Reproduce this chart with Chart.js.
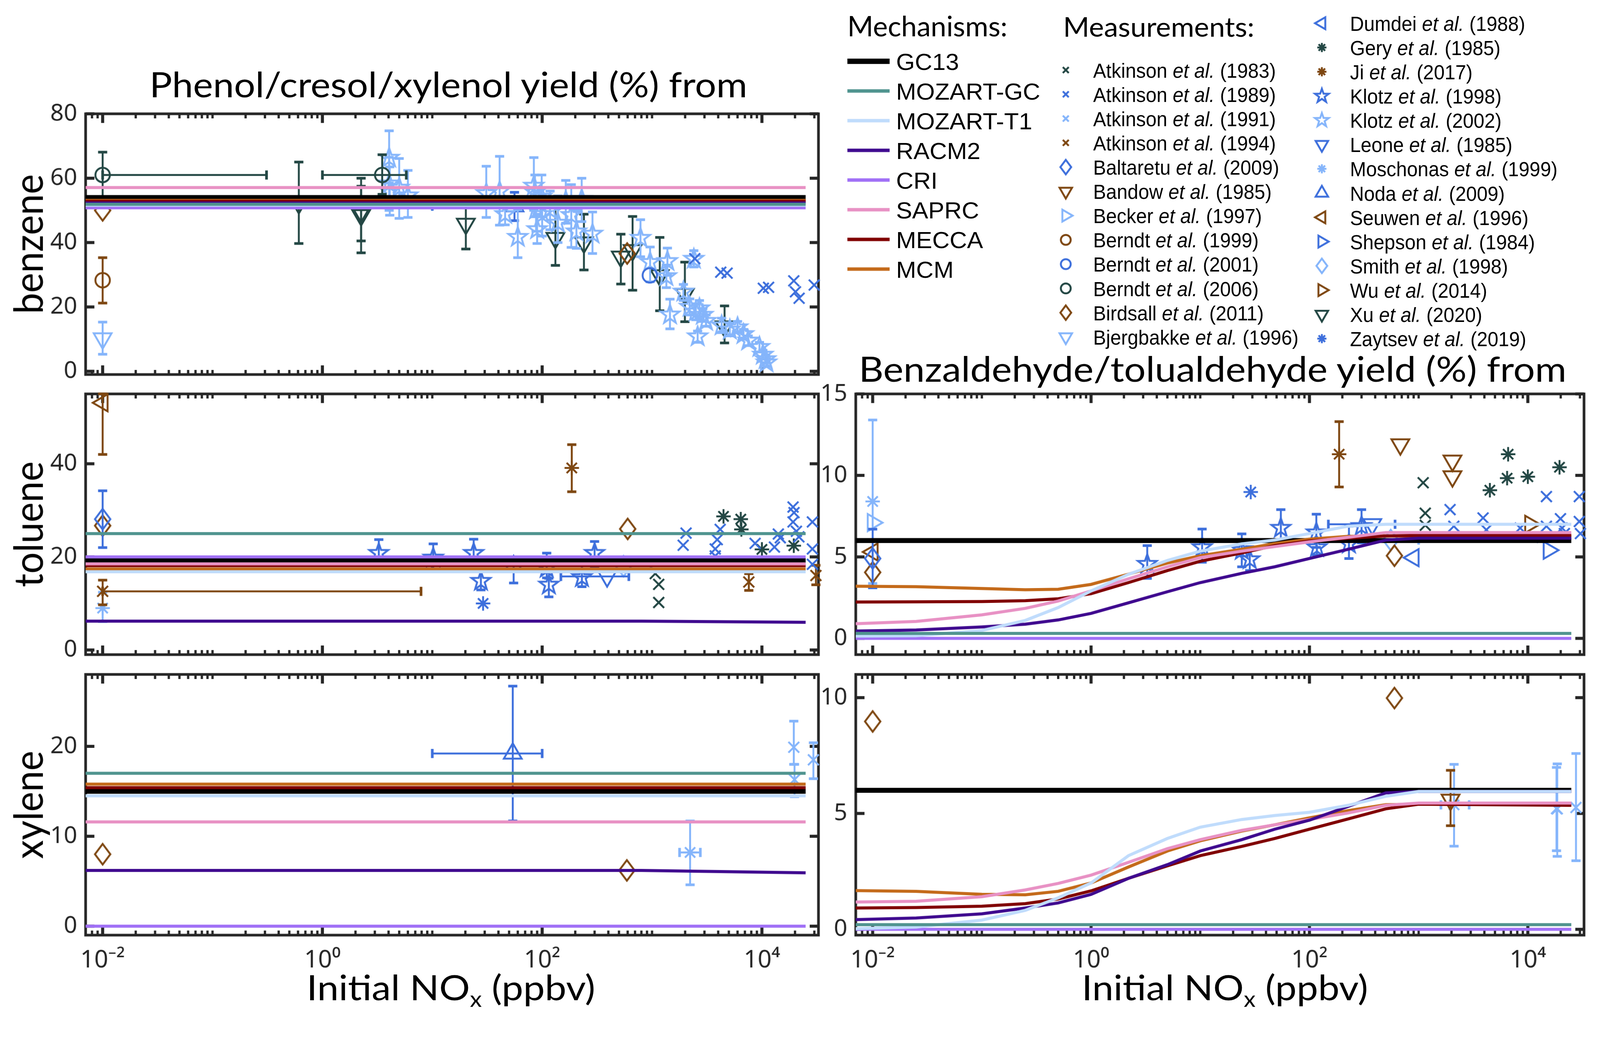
<!DOCTYPE html>
<html>
<head>
<meta charset="utf-8">
<title>Phenol and benzaldehyde yields vs initial NOx</title>
<script src="https://cdn.jsdelivr.net/npm/chart.js@4.4.1/dist/chart.umd.min.js"></script>
<style>
  html, body { margin: 0; padding: 0; background: #fff; overflow: hidden; }
  #page { position: relative; width: 4205px; height: 2695px; overflow: hidden; background: #fff; transform-origin: 0 0; }
  #page canvas { position: absolute; }
  .txt { position: absolute; left: 0; top: 0; white-space: nowrap; line-height: 1; color: #000; transform-origin: 0 0; }
  .bl { display: inline-block; width: 0; height: 0; vertical-align: baseline; }
</style>
</head>
<body>
<div id="page"></div>
<script>
// mechanisms (legend order)
const mechNames = ["GC13", "MOZART-GC", "MOZART-T1", "RACM2", "CRI", "SAPRC", "MECCA", "MCM"];
const mechColors = ["#000000", "#50948f", "#c0dcfc", "#3f0a8f", "#a070f6", "#e891c4", "#800000", "#c46a1a"];
const mechWidths = [13, 8, 8, 8, 8, 8, 8, 8];

// shared log x axis
const xMin = 0.007;
const xMax = 32700;
const xTickValues = [0.01, 1, 100, 10000];
const xTickLabels = ["10⁻²", "10⁰", "10²", "10⁴"];
const mechLineX = [0.007, 25000];

// phenol-type yields, flat mechanism values
const benzeneMech = [54.0, 51.9, 51.6, 52.3, 50.8, 57.1, 52.8, 53.1];
const tolueneMech = [19.2, 25.0, 16.8, 6.2, 20.0, 18.5, 18.1, 17.4];
const xyleneMech = [15.0, 17.0, 14.5, 6.2, 0.0, 11.6, 15.4, 15.8];
const racm2X = [0.007, 800, 25000];
const tolueneRacm2 = [6.2, 6.2, 5.95];
const xyleneRacm2 = [6.2, 6.2, 5.93];

// benzaldehyde-type yields, NOx-dependent mechanisms
const curveX = [0.007, 0.025, 0.1, 0.25, 0.5, 1, 2.2, 5, 10, 24, 48, 100, 225, 500, 1000, 25000];
const tolBzFlat = [6.0, 0.3, 0.0]; // GC13, MOZART-GC, CRI
const tolBzMozT1 = [0.14, 0.16, 0.48, 1.10, 1.89, 2.91, 3.93, 4.78, 5.35, 5.80, 6.03, 6.43, 6.88, 7.0, 7.0, 7.0];
const tolBzRacm2 = [0.45, 0.51, 0.70, 0.87, 1.13, 1.53, 2.18, 2.86, 3.42, 3.99, 4.39, 4.90, 5.46, 6.03, 6.15, 6.15];
const tolBzSaprc = [0.90, 1.04, 1.44, 1.84, 2.29, 2.91, 3.65, 4.39, 4.95, 5.35, 5.63, 5.92, 6.20, 6.49, 6.49, 6.49];
const tolBzMecca = [2.23, 2.24, 2.26, 2.31, 2.43, 2.74, 3.42, 4.16, 4.73, 5.24, 5.69, 5.97, 6.14, 6.28, 6.32, 6.32];
const tolBzMcm = [3.20, 3.17, 3.06, 2.98, 3.01, 3.31, 3.94, 4.62, 5.07, 5.47, 5.81, 6.09, 6.26, 6.29, 6.27, 6.25];
const xylBzFlat = [6.0, 0.2, 0.0];
const xylBzMozT1 = [0.03, 0.10, 0.40, 0.82, 1.36, 2.0, 3.18, 3.92, 4.41, 4.74, 4.91, 5.05, 5.35, 5.74, 5.95, 5.95];
const xylBzRacm2 = [0.42, 0.49, 0.67, 0.92, 1.14, 1.51, 2.2, 2.79, 3.38, 3.87, 4.32, 4.71, 5.3, 5.89, 5.95, 5.95];
const xylBzSaprc = [1.18, 1.21, 1.41, 1.70, 1.98, 2.34, 2.89, 3.48, 3.87, 4.27, 4.51, 4.74, 5.02, 5.35, 5.45, 5.45];
const xylBzMecca = [0.92, 0.94, 1.0, 1.11, 1.31, 1.66, 2.2, 2.74, 3.18, 3.58, 3.92, 4.32, 4.76, 5.2, 5.4, 5.35];
const xylBzMcm = [1.67, 1.64, 1.51, 1.49, 1.64, 2.0, 2.69, 3.38, 3.82, 4.24, 4.51, 4.81, 5.12, 5.38, 5.40, 5.38];

// measurement studies
const studyKeys = ["Atkinson1983", "Atkinson1989", "Atkinson1991", "Atkinson1994", "Baltaretu2009", "Bandow1985",
  "Becker1997", "Berndt1999", "Berndt2001", "Berndt2006", "Birdsall2011", "Bjergbakke1996", "Dumdei1988",
  "Gery1985", "Ji2017", "Klotz1998", "Klotz2002", "Leone1985", "Moschonas1999", "Noda2009", "Seuwen1996",
  "Shepson1984", "Smith1998", "Wu2014", "Xu2020", "Zaytsev2019"];
const studyAuthors = ["Atkinson", "Atkinson", "Atkinson", "Atkinson", "Baltaretu", "Bandow", "Becker", "Berndt",
  "Berndt", "Berndt", "Birdsall", "Bjergbakke", "Dumdei", "Gery", "Ji", "Klotz", "Klotz", "Leone", "Moschonas",
  "Noda", "Seuwen", "Shepson", "Smith", "Wu", "Xu", "Zaytsev"];
const studyYears = [1983, 1989, 1991, 1994, 2009, 1985, 1997, 1999, 2001, 2006, 2011, 1996, 1988, 1985, 2017,
  1998, 2002, 1985, 1999, 2009, 1996, 1984, 1998, 2014, 2020, 2019];
const studyColors = ["#234744", "#3d6fdc", "#85b5fb", "#7e4711", "#3d6fdc", "#7e4711", "#85b5fb", "#7e4711",
  "#3d6fdc", "#234744", "#7e4711", "#85b5fb", "#3d6fdc", "#234744", "#7e4711", "#3d6fdc", "#85b5fb", "#3d6fdc",
  "#85b5fb", "#3d6fdc", "#7e4711", "#3d6fdc", "#85b5fb", "#7e4711", "#234744", "#3d6fdc"];
const studyMarkers = ["x", "x", "x", "x", "d", "v", ">", "o", "o", "o", "d", "v", "<", "*", "*", "p", "p", "v",
  "*", "^", "<", ">", "d", ">", "v", "*"];

// observations: [study, NOx, yield, yield low, yield high, NOx low, NOx high]
const benzeneObs = [
  ["Berndt2006", 0.01, 61, 54.2, 68.1, 0.01, 0.31],
  ["Berndt2006", 3.5, 61, 55, 67.3, 1.0, 5.8],
  ["Birdsall2011", 0.01, 50],
  ["Birdsall2011", 594, 36.6],
  ["Berndt1999", 0.01, 28.3, 21.2, 35.3],
  ["Bjergbakke1996", 0.01, 10.2, 5.3, 15.3],
  ["Noda2009", 56, 51.3, 46.8, 55.6, 10, 100],
  ["Berndt2001", 955, 29.8],
  ["Atkinson1989", 2450, 35], ["Atkinson1989", 4220, 30.8], ["Atkinson1989", 4820, 30.5],
  ["Atkinson1989", 10300, 25.8], ["Atkinson1989", 11500, 26.1], ["Atkinson1989", 19500, 28.1],
  ["Atkinson1989", 20200, 24.7], ["Atkinson1989", 21800, 22.7], ["Atkinson1989", 29900, 26.8],
  ["Klotz2002", 4.05, 66.3, 58.5, 74.7], ["Klotz2002", 4.05, 58.3, 50, 66.5], ["Klotz2002", 4.1, 55.9, 48.5, 63.5],
  ["Klotz2002", 5.0, 57, 47.5, 66.1], ["Klotz2002", 6.0, 54.6, 47.8, 62.4],
  ["Klotz2002", 31, 55.3, 47.8, 63.7], ["Klotz2002", 41, 55.9, 45.4, 66.8], ["Klotz2002", 46, 48.8, 45.5, 52.5],
  ["Klotz2002", 60, 41.7, 35.3, 50.2], ["Klotz2002", 84, 57.6, 50, 66.4], ["Klotz2002", 86, 55.6, 48, 61],
  ["Klotz2002", 88, 50.2, 43.5, 56], ["Klotz2002", 90, 44.1, 39.7, 48.8], ["Klotz2002", 99, 54.2, 48, 61],
  ["Klotz2002", 100, 48.8, 42, 55], ["Klotz2002", 118, 50.2, 44, 56], ["Klotz2002", 139, 46.1, 40, 54.5],
  ["Klotz2002", 164, 52.9, 46, 59.3], ["Klotz2002", 184, 48.5, 38.5, 58], ["Klotz2002", 205, 43.4, 38.2, 50],
  ["Klotz2002", 229, 53.5, 46.5, 60], ["Klotz2002", 287, 42.7, 36.6, 49.5], ["Klotz2002", 785, 41.4, 35.6, 47.1],
  ["Klotz2002", 960, 33.9, 27.8, 38.6], ["Klotz2002", 1380, 34.2, 29.8, 38.3], ["Klotz2002", 1350, 29.5, 26, 33],
  ["Klotz2002", 1456, 17.6, 13.2, 22.4], ["Klotz2002", 1930, 24.7, 22, 27], ["Klotz2002", 2400, 34.9, 32.4, 37.5],
  ["Klotz2002", 2200, 20, 17.5, 22.5], ["Klotz2002", 2500, 18.5, 16, 21], ["Klotz2002", 2700, 19.5, 17, 22],
  ["Klotz2002", 2900, 17.5, 15.5, 19.5], ["Klotz2002", 2600, 10.8, 9, 12.5], ["Klotz2002", 3100, 15.6, 14, 17.5],
  ["Klotz2002", 4300, 14.2, 12, 16.5], ["Klotz2002", 5100, 12.9, 11, 15], ["Klotz2002", 6000, 13.6, 12, 15.5],
  ["Klotz2002", 6800, 11.5, 10, 13], ["Klotz2002", 7500, 9.5, 8, 11], ["Klotz2002", 9500, 7.5, 6, 9],
  ["Klotz2002", 10200, 5.1, 4, 6.5], ["Klotz2002", 10800, 3.7, 2.7, 5], ["Klotz2002", 11000, 2.7, 1.5, 4],
  ["Xu2020", 0.61, 52.2, 39.7, 65], ["Xu2020", 2.25, 49.5, 36.8, 60], ["Xu2020", 2.25, 48.5, 40.5, 57.5],
  ["Xu2020", 20.2, 45.8, 38, 54.2], ["Xu2020", 132, 41.4, 32.9, 50.8], ["Xu2020", 240, 40, 31.5, 48.8],
  ["Xu2020", 520, 35.6, 27.1, 42.6], ["Xu2020", 665, 37.6, 25.2, 48.1], ["Xu2020", 1176, 29.8, 18.8, 41.6],
  ["Xu2020", 1990, 24, 15.4, 33.9], ["Xu2020", 4570, 13.9, 8.8, 20.3]
];
const tolueneObs = [
  ["Seuwen1996", 0.01, 53.1, 42.0, 55],
  ["Baltaretu2009", 0.01, 28.1, 22.0, 34.2],
  ["Birdsall2011", 0.01, 26.7], ["Birdsall2011", 600, 26.0],
  ["Atkinson1994", 0.01, 12.6, 9.7, 15.0, 0.01, 7.9],
  ["Atkinson1994", 7600, 14.6, 12.8, 16.4], ["Atkinson1994", 31000, 16.0, 14.0, 18.2],
  ["Moschonas1999", 0.01, 9.0, 6.1, 12.4],
  ["Ji2017", 186, 39.1, 34.0, 44.1],
  ["Klotz1998", 3.26, 20.8, 18.2, 23.7], ["Klotz1998", 10.2, 19.8, 17.2, 22.8], ["Klotz1998", 23.8, 20.8, 18.4, 23.8],
  ["Klotz1998", 27.7, 14.8, 12.9, 17.0], ["Klotz1998", 110, 17.6, 15.5, 20.8], ["Klotz1998", 115, 14.0, 11.4, 15.4],
  ["Klotz1998", 230, 15.6, 13.6, 19.0], ["Klotz1998", 300, 20.8, 18.0, 23.3],
  ["Noda2009", 55, 18.0, 14.4, 19.9, 10, 100],
  ["Leone1985", 390, 15.8, null, null, 148, 615],
  ["Smith1998", 550, 18.0, null, null, 100, 980],
  ["Zaytsev2019", 29, 10.0],
  ["Atkinson1983", 1070, 16.4], ["Atkinson1983", 1150, 14.1], ["Atkinson1983", 1150, 10.2],
  ["Gery1985", 4470, 28.7], ["Gery1985", 6420, 28.1], ["Gery1985", 6500, 25.9], ["Gery1985", 10000, 21.6],
  ["Gery1985", 19500, 22.4],
  ["Atkinson1989", 2040, 25.1], ["Atkinson1989", 1920, 22.5], ["Atkinson1989", 4170, 25.9], ["Atkinson1989", 3920, 23.7],
  ["Atkinson1989", 3760, 21.7], ["Atkinson1989", 3760, 20.2], ["Atkinson1989", 8670, 22.9], ["Atkinson1989", 14100, 24.9],
  ["Atkinson1989", 14700, 24.1], ["Atkinson1989", 13000, 22.1], ["Atkinson1989", 19200, 30.7], ["Atkinson1989", 19600, 29.5],
  ["Atkinson1989", 19200, 27.5], ["Atkinson1989", 20600, 25.5], ["Atkinson1989", 21700, 24.3], ["Atkinson1989", 28800, 27.5],
  ["Atkinson1989", 28800, 21.7], ["Atkinson1989", 28800, 18.4]
];
const xyleneObs = [
  ["Birdsall2011", 0.01, 8.0], ["Birdsall2011", 590, 6.2],
  ["Noda2009", 54, 19.2, 11.7, 26.7, 10, 100],
  ["Moschonas1999", 2220, 8.2, 4.6, 11.7, 1780, 2750],
  ["Atkinson1991", 19500, 19.9, 18.0, 22.8], ["Atkinson1991", 19800, 16.3, 14.4, 18.0],
  ["Atkinson1991", 29400, 18.5, 16.4, 20.4]
];
const tolBzObs = [
  ["Moschonas1999", 0.01, 8.4, 3.37, 13.4],
  ["Becker1997", 0.01, 7.1],
  ["Baltaretu2009", 0.01, 4.9, 3.1, 6.7],
  ["Birdsall2011", 0.01, 4.05], ["Birdsall2011", 600, 5.07],
  ["Seuwen1996", 0.01, 5.3],
  ["Klotz1998", 3.27, 4.56, 3.68, 5.69], ["Klotz1998", 10.4, 5.58, 4.67, 6.71], ["Klotz1998", 24, 5.41, 4.39, 6.41],
  ["Klotz1998", 28.4, 4.84, 4.16, 5.63], ["Klotz1998", 54.7, 6.77, 5.86, 7.9], ["Klotz1998", 115.6, 6.49, 5.58, 7.62],
  ["Klotz1998", 117, 5.58, 5.1, 6.1], ["Klotz1998", 230, 5.8, 4.9, 6.88], ["Klotz1998", 300, 6.88, 5.86, 7.9],
  ["Leone1985", 376, 7.0, null, null, 149, 608],
  ["Smith1998", 555, 6.03, null, null, 115, 1000],
  ["Zaytsev2019", 29, 8.98],
  ["Ji2017", 187, 11.3, 9.29, 13.3],
  ["Bandow1985", 680, 11.9], ["Bandow1985", 2040, 10.9], ["Bandow1985", 2040, 9.94],
  ["Dumdei1988", 900, 4.95],
  ["Atkinson1983", 1100, 9.55], ["Atkinson1983", 1150, 7.68], ["Atkinson1983", 1150, 6.94],
  ["Gery1985", 4490, 9.09], ["Gery1985", 6460, 9.83], ["Gery1985", 6600, 11.3], ["Gery1985", 10000, 9.92],
  ["Gery1985", 19500, 10.5],
  ["Atkinson1989", 1940, 7.9], ["Atkinson1989", 2100, 6.88], ["Atkinson1989", 3890, 7.39], ["Atkinson1989", 4170, 6.66],
  ["Atkinson1989", 8510, 6.77], ["Atkinson1989", 13500, 6.2], ["Atkinson1989", 14800, 8.7], ["Atkinson1989", 14800, 6.88],
  ["Atkinson1989", 19900, 7.34], ["Atkinson1989", 20600, 6.77], ["Atkinson1989", 21600, 6.43], ["Atkinson1989", 29600, 8.7],
  ["Atkinson1989", 29600, 7.17], ["Atkinson1989", 30300, 6.43],
  ["Wu2014", 10500, 7.0],
  ["Shepson1984", 15500, 5.41]
];
const xylBzObs = [
  ["Birdsall2011", 0.01, 8.97], ["Birdsall2011", 600, 9.98],
  ["Bandow1985", 1960, 5.59, 4.47, 6.86],
  ["Moschonas1999", 2110, 5.37, 3.59, 7.12, 1600, 2900],
  ["Atkinson1991", 18300, 5.21, 3.39, 6.99], ["Atkinson1991", 18600, 5.2, 3.15, 7.14],
  ["Atkinson1991", 27600, 5.26, 2.96, 7.59]
];

// y axes
const benzeneYTicks = [0, 20, 40, 60, 80];
const tolueneYTicks = [0, 20, 40];
const xyleneYTicks = [0, 10, 20];
const tolBzYTicks = [0, 5, 10, 15];
const xylBzYTicks = [0, 5, 10];

const page = document.getElementById("page");
const axisColor = "#262626";

// the layout is drawn on a 4205 x 2695 sheet, fitted to whatever viewport we get
const fit = Math.min(window.innerWidth / 4205, window.innerHeight / 2695);
page.style.transform = `scale(${fit})`;

// draw one marker centred on (0,0)
function paintMarker(g, shape, color, r, lw) {
  g.save();
  g.strokeStyle = color;
  g.lineWidth = lw;
  g.lineJoin = "miter";
  g.beginPath();
  if (shape === "x") {
    const a = r * Math.SQRT1_2;
    g.moveTo(-a, -a); g.lineTo(a, a);
    g.moveTo(a, -a); g.lineTo(-a, a);
  } else if (shape === "*") {
    for (let k = 0; k < 4; k++) {
      const t = k * Math.PI / 4;
      g.moveTo(-r * Math.cos(t), -r * Math.sin(t));
      g.lineTo(r * Math.cos(t), r * Math.sin(t));
    }
  } else if (shape === "o") {
    g.arc(0, 0, r, 0, 2 * Math.PI);
  } else if ("v^<>".includes(shape)) {
    const rot = { "^": 0, ">": 90, "v": 180, "<": 270 }[shape] * Math.PI / 180;
    for (let k = 0; k < 3; k++) {
      const t = rot + k * 2 * Math.PI / 3;
      g.lineTo(Math.sin(t) * r, -Math.cos(t) * r);
    }
    g.closePath();
  } else if (shape === "d") {
    g.moveTo(0, -r); g.lineTo(0.75 * r, 0); g.lineTo(0, r); g.lineTo(-0.75 * r, 0);
    g.closePath();
  } else if (shape === "p") {
    for (let k = 0; k < 10; k++) {
      const rr = k % 2 ? r * 0.4 : r;
      const t = k * Math.PI / 5;
      g.lineTo(rr * Math.sin(t), -rr * Math.cos(t));
    }
    g.closePath();
  }
  g.stroke();
  g.restore();
}

function markerCanvas(shape, color, r, lw) {
  const size = Math.ceil(2 * r + 4 * lw);
  const c = document.createElement("canvas");
  c.width = size;
  c.height = size;
  const g = c.getContext("2d");
  g.translate(size / 2, size / 2);
  paintMarker(g, shape, color, r, lw);
  return c;
}

function pointStyleFor(shape, color) {
  switch (shape) {
    case "x": return { pointStyle: "crossRot", pointRadius: 20, pointRotation: 0 };
    case "*": return { pointStyle: "star", pointRadius: 19, pointRotation: 0 };
    case "o": return { pointStyle: "circle", pointRadius: 19, pointRotation: 0 };
    case "v": return { pointStyle: "triangle", pointRadius: 27, pointRotation: 180 };
    case "^": return { pointStyle: "triangle", pointRadius: 27, pointRotation: 0 };
    case ">": return { pointStyle: "triangle", pointRadius: 26, pointRotation: 90 };
    case "<": return { pointStyle: "triangle", pointRadius: 26, pointRotation: 270 };
    case "d": return { pointStyle: markerCanvas("d", color, 27, 5), pointRadius: 20, pointRotation: 0 };
    default: return { pointStyle: markerCanvas("p", color, 26, 5), pointRadius: 20, pointRotation: 0 };
  }
}

// mechanism line datasets, GC13 drawn last so it sits on top
function mechDatasets(series) {
  const order = [1, 2, 3, 4, 5, 6, 7, 0];
  return order.map(i => ({
    label: mechNames[i],
    data: series[i],
    showLine: true,
    borderColor: mechColors[i],
    borderWidth: mechWidths[i],
    pointRadius: 0,
    fill: false
  }));
}

function flatSeries(values) {
  return values.map(v => mechLineX.map(x => ({ x, y: v })));
}

function curve(xs, ys) {
  return xs.map((x, k) => ({ x, y: ys[k] }));
}

function obsDatasets(rows) {
  const out = [];
  studyKeys.forEach((key, i) => {
    const pts = rows.filter(r => r[0] === key).map(r => ({
      x: r[1], y: r[2],
      yl: r[3] ?? null, yh: r[4] ?? null,
      xl: r[5] ?? null, xh: r[6] ?? null
    }));
    if (!pts.length) return;
    const st = pointStyleFor(studyMarkers[i], studyColors[i]);
    out.push({
      label: studyAuthors[i] + " et al. (" + studyYears[i] + ")",
      data: pts,
      showLine: false,
      errorBars: true,
      clip: false,
      borderColor: studyColors[i],
      pointBorderColor: studyColors[i],
      backgroundColor: "rgba(0,0,0,0)",
      pointBackgroundColor: "rgba(0,0,0,0)",
      pointBorderWidth: 5,
      pointStyle: st.pointStyle,
      pointRadius: st.pointRadius,
      pointRotation: st.pointRotation
    });
  });
  return out;
}

// error bars with caps, drawn just before each measurement dataset
const errorBarPlugin = {
  id: "errorBars",
  beforeDatasetDraw(chart, args) {
    const ds = chart.data.datasets[args.index];
    if (!ds.errorBars) return;
    const ctx = chart.ctx;
    const xs = chart.scales.x;
    const ys = chart.scales.y;
    ctx.save();
    ctx.strokeStyle = ds.borderColor;
    ds.data.forEach(p => {
      const px = xs.getPixelForValue(p.x);
      const py = ys.getPixelForValue(p.y);
      if (p.yl !== null) {
        const a = ys.getPixelForValue(p.yl);
        const b = ys.getPixelForValue(p.yh);
        ctx.lineWidth = 5;
        ctx.beginPath();
        ctx.moveTo(px, a); ctx.lineTo(px, b);
        ctx.stroke();
        ctx.lineWidth = 7;
        ctx.beginPath();
        ctx.moveTo(px - 12, a); ctx.lineTo(px + 12, a);
        ctx.moveTo(px - 12, b); ctx.lineTo(px + 12, b);
        ctx.stroke();
      }
      if (p.xl !== null) {
        const a = xs.getPixelForValue(p.xl);
        const b = xs.getPixelForValue(p.xh);
        ctx.lineWidth = 5;
        ctx.beginPath();
        ctx.moveTo(a, py); ctx.lineTo(b, py);
        ctx.stroke();
        ctx.lineWidth = 7;
        ctx.beginPath();
        ctx.moveTo(a, py - 12); ctx.lineTo(a, py + 12);
        ctx.moveTo(b, py - 12); ctx.lineTo(b, py + 12);
        ctx.stroke();
      }
    });
    ctx.restore();
  }
};

// axes box with inward ticks on all four sides
const boxPlugin = {
  id: "axesBox",
  beforeDatasetsDraw(chart) {
    const { ctx, chartArea: a } = chart;
    const xs = chart.scales.x;
    const ys = chart.scales.y;
    ctx.save();
    ctx.strokeStyle = axisColor;
    ctx.lineCap = "butt";
    for (let d = -3; d <= 4; d++) {
      for (let m = 1; m <= 9; m++) {
        const v = m * Math.pow(10, d);
        if (v < xMin || v > xMax) continue;
        const major = m === 1 && d % 2 === 0;
        const len = major ? 24 : 12;
        const px = xs.getPixelForValue(v);
        ctx.lineWidth = major ? 8 : 6;
        ctx.beginPath();
        ctx.moveTo(px, a.bottom); ctx.lineTo(px, a.bottom - len);
        ctx.moveTo(px, a.top); ctx.lineTo(px, a.top + len);
        ctx.stroke();
      }
    }
    ctx.lineWidth = 8;
    ys.ticks.forEach(t => {
      const py = ys.getPixelForValue(t.value);
      ctx.beginPath();
      ctx.moveTo(a.left, py); ctx.lineTo(a.left + 23, py);
      ctx.moveTo(a.right, py); ctx.lineTo(a.right - 23, py);
      ctx.stroke();
    });
    ctx.lineWidth = 7;
    ctx.strokeRect(a.left, a.top, a.right - a.left, a.bottom - a.top);
    ctx.restore();
  }
};

function makePanel(box, yMin, yMax, yTicks, datasets, showX) {
  const padL = 200, padR = 40, padT = 60, padB = showX ? 140 : 60;
  const cv = document.createElement("canvas");
  cv.width = box.w + padL + padR;
  cv.height = box.h + padT + padB;
  cv.style.left = (box.x - padL) + "px";
  cv.style.top = (box.y - padT) + "px";
  page.appendChild(cv);
  return new Chart(cv, {
    type: "scatter",
    data: { datasets },
    options: {
      responsive: false,
      animation: false,
      devicePixelRatio: 1,
      layout: { padding: { left: 0, right: padR, top: padT, bottom: 0 } },
      plugins: { legend: { display: false }, tooltip: { enabled: false } },
      scales: {
        x: {
          type: "logarithmic",
          min: xMin,
          max: xMax,
          grid: { display: false, drawTicks: false },
          border: { display: false },
          afterBuildTicks: s => { s.ticks = xTickValues.map(v => ({ value: v })); },
          afterFit: s => { s.height = padB; },
          ticks: {
            display: showX,
            autoSkip: false,
            maxRotation: 0,
            padding: 28,
            color: axisColor,
            font: { family: "Noto Sans", size: 64 },
            callback: (v, i) => xTickLabels[i]
          }
        },
        y: {
          min: yMin,
          max: yMax,
          grid: { display: false, drawTicks: false },
          border: { display: false },
          afterBuildTicks: s => { s.ticks = yTicks.map(v => ({ value: v })); },
          afterFit: s => { s.width = padL; },
          ticks: {
            padding: 22,
            color: axisColor,
            font: { family: "Noto Sans", size: 62 },
            callback: v => String(v)
          }
        }
      }
    },
    plugins: [boxPlugin, errorBarPlugin]
  });
}

// panels
const leftX = 225, leftW = 1926, rightX = 2249, rightW = 1914, panelH = 685;
const rowY = [299, 1035, 1772];

const benzeneSeries = flatSeries(benzeneMech);
const tolueneSeries = flatSeries(tolueneMech);
tolueneSeries[3] = curve(racm2X, tolueneRacm2);
const xyleneSeries = flatSeries(xyleneMech);
xyleneSeries[3] = curve(racm2X, xyleneRacm2);

const tolBzSeries = [
  mechLineX.map(x => ({ x, y: tolBzFlat[0] })),
  mechLineX.map(x => ({ x, y: tolBzFlat[1] })),
  curve(curveX, tolBzMozT1),
  curve(curveX, tolBzRacm2),
  mechLineX.map(x => ({ x, y: tolBzFlat[2] })),
  curve(curveX, tolBzSaprc),
  curve(curveX, tolBzMecca),
  curve(curveX, tolBzMcm)
];
const xylBzSeries = [
  mechLineX.map(x => ({ x, y: xylBzFlat[0] })),
  mechLineX.map(x => ({ x, y: xylBzFlat[1] })),
  curve(curveX, xylBzMozT1),
  curve(curveX, xylBzRacm2),
  mechLineX.map(x => ({ x, y: xylBzFlat[2] })),
  curve(curveX, xylBzSaprc),
  curve(curveX, xylBzMecca),
  curve(curveX, xylBzMcm)
];

makePanel({ x: leftX, y: rowY[0], w: leftW, h: panelH }, -1, 80, benzeneYTicks,
  mechDatasets(benzeneSeries).concat(obsDatasets(benzeneObs)), false);
makePanel({ x: leftX, y: rowY[1], w: leftW, h: panelH }, -1, 55, tolueneYTicks,
  mechDatasets(tolueneSeries).concat(obsDatasets(tolueneObs)), false);
makePanel({ x: leftX, y: rowY[2], w: leftW, h: panelH }, -1, 28, xyleneYTicks,
  mechDatasets(xyleneSeries).concat(obsDatasets(xyleneObs)), true);
makePanel({ x: rightX, y: rowY[1], w: rightW, h: panelH }, -1, 15, tolBzYTicks,
  mechDatasets(tolBzSeries).concat(obsDatasets(tolBzObs)), false);
makePanel({ x: rightX, y: rowY[2], w: rightW, h: panelH }, -0.25, 11, xylBzYTicks,
  mechDatasets(xylBzSeries).concat(obsDatasets(xylBzObs)), true);

// text placed by baseline; optional width fitting and rotation
function addText(html, o) {
  const d = document.createElement("div");
  d.className = "txt";
  d.style.fontFamily = o.family;
  d.style.fontSize = o.size + "px";
  d.innerHTML = html + '<span class="bl"></span>';
  page.appendChild(d);
  const w = d.offsetWidth;
  const base = d.querySelector(".bl").offsetTop;
  const s = o.width ? o.width / w : (o.scale || 1);
  if (o.rotate) {
    const tx = o.baseX - base;
    const ty = o.centerY + (w * s) / 2;
    d.style.transform = `translate(${tx}px, ${ty}px) rotate(-90deg) scale(${s}, 1)`;
  } else {
    const left = o.center != null ? o.center - (w * s) / 2 : o.left;
    d.style.transform = `translate(${left}px, ${o.baseline - base}px) scale(${s}, 1)`;
  }
  return { el: d, s };
}

const titleFont = "Lato, 'Noto Sans', sans-serif";
addText("Phenol/cresol/xylenol yield (%) from", { family: titleFont, size: 92, left: 393, baseline: 256, width: 1571 });
addText("Benzaldehyde/tolualdehyde yield (%) from", { family: titleFont, size: 92, left: 2257, baseline: 1003, width: 1860 });

const yLabelScale = addText("benzene", { family: titleFont, size: 106, rotate: true, baseX: 113, centerY: rowY[0] + panelH / 2, width: 367 }).s;
addText("toluene", { family: titleFont, size: 106, rotate: true, baseX: 113, centerY: rowY[1] + panelH / 2, scale: yLabelScale });
addText("xylene", { family: titleFont, size: 106, rotate: true, baseX: 113, centerY: rowY[2] + panelH / 2, scale: yLabelScale });

const xLabel = 'Initial NO<span style="font-size:62%;position:relative;top:0.32em">x</span> (ppbv)';
addText(xLabel, { family: titleFont, size: 92, center: 1185, baseline: 2628, width: 758 });
addText(xLabel, { family: titleFont, size: 92, center: 3219, baseline: 2628, width: 752 });

// legend
addText("Mechanisms:", { family: titleFont, size: 74, left: 2227, baseline: 95, width: 421 });
addText("Measurements:", { family: titleFont, size: 72, left: 2794, baseline: 96, width: 503 });

const lg = document.createElement("canvas");
lg.width = 2005;
lg.height = 960;
lg.style.left = "2200px";
lg.style.top = "0px";
page.appendChild(lg);
const g = lg.getContext("2d");

const mechFont = "'Liberation Sans', Arial, sans-serif";
const probe = addText("MOZART-GC", { family: mechFont, size: 60, left: 0, baseline: 0, width: 379 });
const mechScale = probe.s;
probe.el.remove();
mechNames.forEach((name, i) => {
  const baseline = 184 + 78 * i;
  g.strokeStyle = mechColors[i];
  g.lineWidth = i === 0 ? 14 : 9;
  g.beginPath();
  g.moveTo(2227 - 2200, baseline - 23);
  g.lineTo(2338 - 2200, baseline - 23);
  g.stroke();
  addText(name, { family: mechFont, size: 60, left: 2355, baseline, scale: mechScale });
});

const legFont = "'Liberation Sans', Arial, sans-serif";
let legScale = null;
studyKeys.forEach((key, i) => {
  const col = i < 12 ? 0 : 1;
  const row = col === 0 ? i : i - 12;
  const baseline = (col === 0 ? 204 : 81) + 63.75 * row;
  const mx = col === 0 ? 2801 : 3474;
  const tx = col === 0 ? 2873 : 3548;
  const shape = studyMarkers[i];
  const r = { x: 11, "*": 12, o: 13, d: 19, p: 19, v: 19, "^": 19, "<": 18, ">": 18 }[shape];
  g.save();
  g.translate(mx - 2200, baseline - 20);
  paintMarker(g, shape, studyColors[i], r, 5);
  g.restore();
  const html = studyAuthors[i] + " <i>et al.</i> (" + studyYears[i] + ")";
  if (legScale === null) {
    legScale = addText(html, { family: legFont, size: 54, left: tx, baseline, width: 480 }).s;
  } else {
    addText(html, { family: legFont, size: 54, left: tx, baseline, scale: legScale });
  }
});
</script>
</body>
</html>
